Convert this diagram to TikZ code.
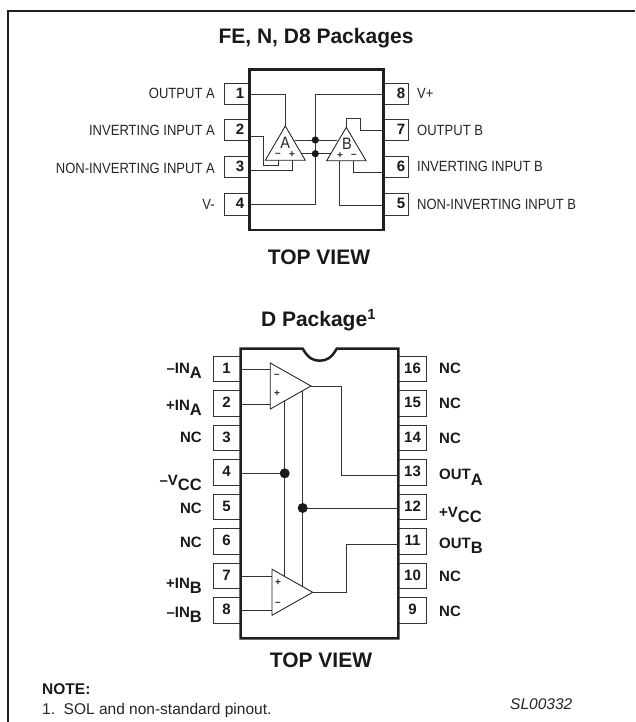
\documentclass[tikz,border=0pt]{standalone}
\usepackage{fontspec}
\setmainfont{Liberation Sans}
\newfontfamily\narrowf[FakeStretch=0.88]{Liberation Sans}
\newcommand{\dropped}[2]{#1\raisebox{-5.4pt}{\fontsize{16.5}{17}\selectfont #2}}
\tikzset{
  x=1pt,y=-1pt,
  body/.style={draw=black!88,line width=2.1pt,fill=white},
  bodyb/.style={draw=black!88,line width=2.5pt,fill=white},
  pinbox/.style={draw=black!80,line width=0.9pt,fill=white,rectangle,inner sep=0pt,outer sep=0pt,minimum height=21.3pt,minimum width=25pt},
  bigpin/.style={draw=black!80,line width=0.9pt,fill=white,rectangle,inner sep=0pt,outer sep=0pt,minimum height=25.8pt,minimum width=27.7pt},
  pinnum/.style={font=\fontsize{15}{16}\bfseries\selectfont,text=black!90,inner sep=0pt},
  wire/.style={draw=black!80,line width=0.85pt},
  amp/.style={draw=black!88,line width=0.85pt,fill=white,line join=miter},
  dot/.style={circle,fill=black!90,inner sep=0pt,minimum size=7.2pt},
  bigdot/.style={circle,fill=black!90,inner sep=0pt,minimum size=10pt},
  nlabel/.style={font=\narrowf\fontsize{14.8}{16}\selectfont,text=black!85,inner sep=0pt},
  dlabel/.style={font=\fontsize{15}{16}\bfseries\selectfont,text=black!90,inner sep=0pt},
  heading/.style={font=\fontsize{21}{22}\bfseries\selectfont,text=black!90,inner sep=0pt},
  signmark/.style={font=\fontsize{10}{10}\bfseries\selectfont,text=black!85,inner sep=0pt},
  small/.style={font=\fontsize{15.5}{16}\selectfont,text=black!85,inner sep=0pt},
}
\begin{document}
\begin{tikzpicture}
\useasboundingbox (0,0) rectangle (635,722);
\fill[white] (0,0) rectangle (635,722);
% frame: left and top edges only
\coordinate (fbl) at (8,722);\coordinate (ftl) at (8,11);\coordinate (ftr) at (635,11);
\draw[black!88,line width=2.7pt] (fbl) -- (ftl) -- (ftr);
% headings
\node[heading] (h1) at (316,38) {FE, N, D8 Packages};
\node[heading] (h2) at (319,257) {TOP VIEW};
\node[heading] (h3) at (318.5,320) {D Package\textsuperscript{1}};
\node[heading] (h4) at (321,660) {TOP VIEW};
% ---------- package 1
\foreach \n/\y in {1/94.3,2/130.3,3/167.2,4/204.5}{
  \node[pinbox] (a\n) at (237,\y) {};
  \node[pinnum] at (240,\y-1) {\n};
}
\foreach \n/\y in {8/94.3,7/130.3,6/167.2,5/204.5}{
  \node[pinbox] (a\n) at (396,\y) {};
  \node[pinnum] at (401,\y-1) {\n};
}
\draw[body] (249.5,69.5) rectangle (383.5,230);
\foreach \n/\t/\y in {1/OUTPUT A/93.5,2/INVERTING INPUT A/130,3/NON-INVERTING INPUT A/168,4/V-/204}{
  \node[nlabel,anchor=east] (la\n) at (215,\y) {\t};
}
\foreach \n/\t/\y in {8/V+/93.5,7/OUTPUT B/130,6/INVERTING INPUT B/166.5,5/NON-INVERTING INPUT B/204}{
  \node[nlabel,anchor=west] (la\n) at (417,\y) {\t};
}
% wires pkg 1
\coordinate (w1) at (249.5,94);\coordinate (w2) at (249.5,136);\coordinate (w3) at (249.5,170);\coordinate (w4) at (249.5,204.3);
\coordinate (w8) at (383.5,94);\coordinate (w7) at (383.5,130.3);\coordinate (w6) at (383.5,172.3);\coordinate (w5) at (383.5,205);
\coordinate (at) at (285.3,126);\coordinate (bt) at (346.3,127.3);
\draw[wire] (w1) -| (at);
\draw[wire] (w2) -- (263.3,136) -- (263.3,165.7) -- (278.7,165.7) -- (278.7,160);
\draw[wire] (w3) -- (292.3,170) -- (292.3,160);
\draw[wire] (w8) -- (315.3,94) -- (315.3,204.3) -- (w4);
\draw[wire] (295,140) -- (337,140);
\draw[wire] (298,153.7) -- (334,153.7);
\draw[wire] (bt) -- (346.3,118.3) -- (360,118.3) -- (360,130.3) -- (w7);
\draw[wire] (w6) -- (353.3,172.3) -- (353.3,160.7);
\draw[wire] (w5) -- (339.7,205) -- (339.7,160.7);
\node[dot] (d1) at (315.3,140) {};
\node[dot] (d2) at (315.3,153.7) {};
\draw[amp] (at) -- (265.3,160.3) -- (305.3,160.3) -- cycle;
\draw[amp] (bt) -- (326.7,160.7) -- (366,160.7) -- cycle;
\node[nlabel,font=\narrowf\fontsize{16.5}{17}\selectfont] (aA) at (285.3,143) {A};
\node[nlabel,font=\narrowf\fontsize{16.5}{17}\selectfont] (aB) at (347,143.5) {B};
\node[signmark] (s1) at (278,155) {–};
\node[signmark] (s2) at (292,155) {+};
\node[signmark] (s3) at (340,155.5) {+};
\node[signmark] (s4) at (354,155.5) {–};
% ---------- package 2
\foreach \n/\y in {1/369,2/403.3,3/438,4/472.5,5/507,6/541.5,7/576,8/610.4}{
  \node[bigpin] (b\n) at (226.9,\y) {};
  \node[pinnum] at (226.5,\y-1) {\n};
}
\foreach \n/\y in {16/369,15/403.3,14/438,13/472.5,12/507,11/541.5,10/576,9/610.4}{
  \node[bigpin] (b\n) at (412.2,\y) {};
  \node[pinnum] at (412.5,\y-1) {\n};
}
\draw[bodyb] (240.7,348.7) -- (302.7,348.7) .. controls (308,358) and (313,360.7) .. (319.7,360.7) .. controls (326.5,360.7) and (331.5,358) .. (336.7,348.7) -- (398.3,348.7) -- (398.3,638.3) -- (240.7,638.3) -- cycle;
\foreach \n/\t/\y in {1/{–\dropped{IN}{A}}/368,2/{+\dropped{IN}{A}}/405,3/NC/437.3,4/{–\dropped{V}{CC}}/480,5/NC/508.3,6/NC/542.3,7/{+\dropped{IN}{B}}/582.7,8/{–\dropped{IN}{B}}/611.7}{
  \node[dlabel,anchor=base east] (lb\n) at (202,\y+5.4) {\t};
}
\foreach \n/\t/\y in {16/NC/368,15/NC/403,14/NC/437.7,13/\dropped{OUT}{A}/474.3,12/{+\dropped{V}{CC}}/512,11/\dropped{OUT}{B}/543,10/NC/575.7,9/NC/611}{
  \node[dlabel,anchor=base west] (lb\n) at (439,\y+5.4) {\t};
}
% wires pkg 2
\coordinate (v1) at (240.7,369.7);\coordinate (v2) at (240.7,404);\coordinate (v4) at (240.7,473);
\coordinate (v7) at (240.7,576);\coordinate (v8) at (240.7,610.3);
\coordinate (v13) at (398.3,475);\coordinate (v12) at (398.3,508);\coordinate (v11) at (398.3,544);
\coordinate (oa) at (311,386);\coordinate (ob) at (312.7,592.3);
\draw[wire] (v1) -- (270.3,369.7);
\draw[wire] (v2) -- (270.3,404);
\draw[wire] (v7) -- (272,576);
\draw[wire] (v8) -- (272,610.3);
\draw[wire] (oa) -- (341.7,386) -- (341.7,475) -- (v13);
\draw[wire] (284.7,401) -- (284.7,576.5);
\draw[wire] (302.7,390.8) -- (302.7,586.6);
\draw[wire] (v4) -- (284.7,473);
\draw[wire] (302.7,508) -- (v12);
\draw[wire] (ob) -- (346.7,592.3) -- (346.7,544) -- (v11);
\node[bigdot] (d3) at (284.7,473.3) {};
\node[bigdot] (d4) at (302.7,508) {};
\draw[amp] (270.3,363) -- (270.3,409) -- (oa) -- cycle;
\draw[amp] (272,569.3) -- (272,615.3) -- (ob) -- cycle;
\node[signmark] (s5) at (277,376) {–};
\node[signmark] (s6) at (277,394) {+};
\node[signmark] (s7) at (278,582.5) {+};
\node[signmark] (s8) at (278,604) {–};
% note
\node[dlabel,font=\fontsize{15.5}{16}\bfseries\selectfont,anchor=west] (note) at (42,689.5) {NOTE:};
\node[small,anchor=west] (foot) at (42,710) {1.\ \ SOL and non-standard pinout.};
\node[small,font=\fontsize{15.5}{16}\itshape\selectfont,anchor=west] (code) at (510,704) {SL00332};
\end{tikzpicture}
\end{document}
